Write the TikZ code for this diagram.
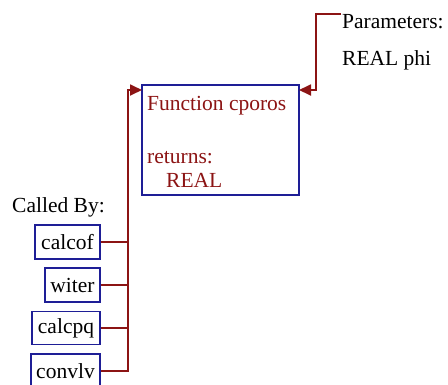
\documentclass[tikz,border=0pt]{standalone}
\usepackage{fontspec}
\setmainfont{Liberation Serif}
\usetikzlibrary{arrows.meta}
\definecolor{boxblue}{RGB}{30,30,150}
\definecolor{dred}{RGB}{140,20,20}
\tikzset{
  fbox/.style={draw=boxblue, line width=1.6pt, inner sep=0pt, font=\fontsize{21.5}{26}\selectfont},
  conn/.style={draw=dred, line width=1.8pt},
  arr/.style={-{Triangle[length=12pt,width=11pt]}},
  lbl/.style={anchor=base west, inner sep=0pt, font=\fontsize{21.5}{26}\selectfont},
}
\begin{document}
\begin{tikzpicture}[x=1pt,y=-1pt]
\useasboundingbox (0,0) rectangle (448,384);
% main function box
\node[fbox, minimum width=157pt, minimum height=110pt] (main) at (220.5,140) {};
\node[lbl, text=dred] (fname) at (147,110) {Function cporos};
\node[lbl, text=dred] (ret) at (147,163) {returns:};
\node[lbl, text=dred] (rtype) at (166,187) {REAL};
% parameters
\node[lbl] (params) at (342,28) {Parameters:};
\node[lbl] (pphi) at (342,65) {REAL phi};
% callers
\node[lbl] (calledby) at (12,212) {Called By:};
\node[fbox, minimum width=65pt, minimum height=34pt] (calcof) at (67.5,242) {calcof};
\node[fbox, minimum width=55pt, minimum height=34pt] (witer) at (72.5,285) {witer};
\node[fbox, minimum width=68pt, minimum height=33pt] (calcpq) at (66,328) {calcpq};
\node[fbox, minimum width=69pt, minimum height=34pt] (convlv) at (65.5,371) {convlv};
% coordinates
\coordinate (inL) at (142,90);
\coordinate (busTop) at (128,90);
\coordinate (inR) at (299,90);
\coordinate (pStart) at (341,14);
\coordinate (pCorner) at (316,14);
% connectors
\draw[conn, arr] (convlv.east) -| (busTop) -- (inL);
\draw[conn] (calcof.east) -- (calcof.east -| busTop);
\draw[conn] (witer.east) -- (witer.east -| busTop);
\draw[conn] (calcpq.east) -- (calcpq.east -| busTop);
\draw[conn, arr] (pStart) -- (pCorner) |- (inR);
\end{tikzpicture}
\end{document}
